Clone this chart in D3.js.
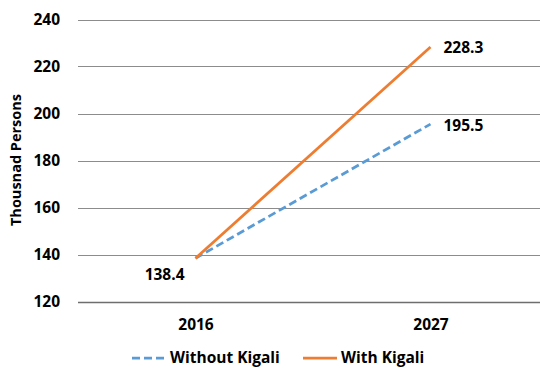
<!DOCTYPE html>
<html>
<head>
<meta charset="utf-8">
<script src="https://cdn.jsdelivr.net/npm/d3@7"></script>
<style>
  body { margin: 0; background: #fff; }
  text { font-family: "Open Sans", "Noto Sans", sans-serif; font-weight: 700; fill: #000; }
</style>
</head>
<body>
<svg id="chart" width="540" height="368"></svg>
<script>
// chart data
var years = ["2016", "2027"];
var withoutKigali = [138.4, 195.5];
var withKigali = [138.4, 228.3];
var yTicks = [120, 140, 160, 180, 200, 220, 240];

var svg = d3.select("#chart");
var plotLeft = 78, plotRight = 548, plotTop = 19.5, plotBottom = 301.5;

var x = d3.scalePoint().domain(years).range([plotLeft, plotRight]).padding(0.5);
var y = d3.scaleLinear().domain([120, 240]).range([plotBottom, plotTop]);

// gridlines
svg.append("g")
    .selectAll("line")
    .data(yTicks)
    .enter().append("line")
    .attr("x1", plotLeft).attr("x2", 540)
    .attr("y1", function(d) { return Math.round(y(d)) + 0.5; })
    .attr("y2", function(d) { return Math.round(y(d)) + 0.5; })
    .attr("stroke", function(d) { return d == 120 ? "#6e6e6e" : "#8c8c8c"; })
    .attr("stroke-width", function(d) { return d == 120 ? 1.5 : 1; });

// y axis labels
var yAxis = d3.axisLeft(y).tickValues(yTicks).tickSize(0).tickPadding(0);
var yg = svg.append("g").attr("transform", "translate(60,0)").call(yAxis);
yg.select(".domain").remove();
yg.selectAll("text").style("font-size", "15.5px").attr("dy", "0.35em");
yg.attr("font-family", null).attr("font-size", null);

// x axis labels
var xAxis = d3.axisBottom(x).tickSize(0).tickPadding(0);
var xg = svg.append("g").attr("transform", "translate(0,319)").call(xAxis);
xg.select(".domain").remove();
xg.selectAll("text").style("font-size", "15.5px").attr("dy", "0.71em");
xg.attr("font-family", null).attr("font-size", null);

// axis title
svg.append("text")
    .attr("transform", "translate(21,160) rotate(-90)")
    .attr("text-anchor", "middle")
    .style("font-size", "14.5px")
    .text("Thousnad Persons");

var line = d3.line()
    .x(function(d, i) { return x(years[i]); })
    .y(function(d) { return y(d); });

svg.append("path")
    .datum(withoutKigali)
    .attr("d", line)
    .attr("fill", "none")
    .attr("stroke", "#5b9bd5")
    .attr("stroke-width", 2.75)
    .attr("stroke-dasharray", "8,4");

svg.append("path")
    .datum(withKigali)
    .attr("d", line)
    .attr("fill", "none")
    .attr("stroke", "#ed7d31")
    .attr("stroke-width", 2.75);

// data labels
svg.append("text")
    .attr("x", x(years[0]) - 11).attr("y", y(withKigali[0]) + 16)
    .attr("text-anchor", "end").attr("dy", "0.35em")
    .style("font-size", "15.5px")
    .text(withKigali[0].toFixed(1));
svg.append("text")
    .attr("x", x(years[1]) + 13).attr("y", y(withKigali[1]) + 1)
    .attr("dy", "0.35em")
    .style("font-size", "15.5px")
    .text(withKigali[1].toFixed(1));
svg.append("text")
    .attr("x", x(years[1]) + 13).attr("y", y(withoutKigali[1]) + 1)
    .attr("dy", "0.35em")
    .style("font-size", "15.5px")
    .text(withoutKigali[1].toFixed(1));

// legend
var legend = [
    { name: "Without Kigali", color: "#5b9bd5", dash: "8,4", x: 132 },
    { name: "With Kigali", color: "#ed7d31", dash: null, x: 303 }
];
var lg = svg.append("g").selectAll("g").data(legend).enter().append("g")
    .attr("transform", function(d) { return "translate(" + d.x + ",358)"; });
lg.append("line")
    .attr("x1", 0).attr("x2", 34)
    .attr("stroke", function(d) { return d.color; })
    .attr("stroke-width", 2.75)
    .attr("stroke-dasharray", function(d) { return d.dash; });
lg.append("text")
    .attr("x", 38).attr("dy", "0.35em")
    .style("font-size", "15.5px")
    .text(function(d) { return d.name; });
</script>
</body>
</html>
